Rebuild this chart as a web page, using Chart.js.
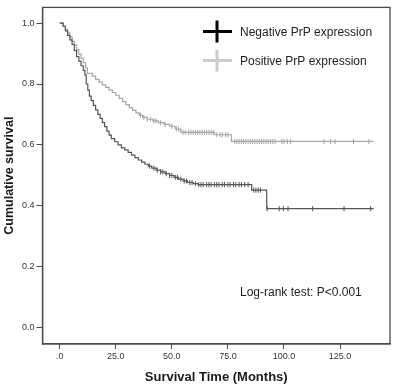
<!DOCTYPE html>
<html>
<head>
<meta charset="utf-8">
<script src="https://cdn.jsdelivr.net/npm/chart.js@4.4.1/dist/chart.umd.min.js"></script>
<style>
  html, body { margin: 0; padding: 0; background: #ffffff; }
  #wrap { width: 397px; height: 387px; }
</style>
</head>
<body>
<div id="wrap"><canvas id="c" width="397" height="387"></canvas></div>
<script>
// ---- Data ----
const seriesNames = ['Negative PrP expression', 'Positive PrP expression'];

// Negative PrP expression: step times (months) and survival after each step
const negTimes = [0, 1.5, 2.5, 3.5, 4.5, 5.5, 6.5, 7.5, 8.5, 9.5, 10.5, 11.2, 11.8, 12.5, 13.2, 14.0, 15.0, 16.0, 17.0, 18.0, 19.0, 20.0, 21.0, 22.0, 23.0, 24.5, 26.0, 27.5, 29.0, 30.5, 32.0, 33.5, 35.0, 36.5, 38.0, 39.5, 41.0, 43.0, 45.0, 47.0, 49.0, 51.0, 53.0, 55.0, 57.0, 59.5, 61.7, 85.6, 92.3, 140];
const negSurv  = [1.0, 0.99, 0.975, 0.96, 0.945, 0.93, 0.91, 0.89, 0.875, 0.86, 0.845, 0.83, 0.80, 0.78, 0.76, 0.745, 0.73, 0.715, 0.70, 0.687, 0.673, 0.66, 0.645, 0.632, 0.62, 0.61, 0.60, 0.59, 0.583, 0.575, 0.566, 0.558, 0.55, 0.543, 0.536, 0.53, 0.523, 0.517, 0.511, 0.505, 0.499, 0.493, 0.487, 0.481, 0.476, 0.472, 0.469, 0.451, 0.39, 0.39];
const negCensored = [40, 42, 43.5, 45, 46, 47.5, 49, 50, 51.5, 52.5, 54, 55.5, 56.5, 58, 59, 60.5, 62, 63, 64, 65.5, 66.5, 67.5, 69, 70, 71, 72.5, 73.5, 75, 76, 77.5, 78.5, 80, 81, 82.5, 84, 86.5, 87.5, 88.5, 89.5, 92.5, 97.9, 99.7, 101.8, 112.8, 126.8, 138.7];

// Positive PrP expression
const posTimes = [0, 1.5, 2.5, 3.5, 4.5, 5.5, 6.5, 7.5, 8.5, 9.5, 10.5, 11.5, 12.3, 14.5, 16.0, 17.5, 19.0, 20.5, 22.0, 23.5, 25.0, 26.5, 28.0, 29.5, 31.0, 32.5, 34.0, 35.5, 37.0, 39.0, 41.5, 44.0, 46.5, 49.0, 51.5, 54.0, 69.0, 76.6, 140];
const posSurv  = [1.0, 0.99, 0.98, 0.968, 0.955, 0.94, 0.928, 0.913, 0.898, 0.885, 0.87, 0.853, 0.835, 0.826, 0.815, 0.806, 0.797, 0.789, 0.78, 0.772, 0.763, 0.753, 0.742, 0.732, 0.722, 0.713, 0.705, 0.697, 0.69, 0.684, 0.679, 0.673, 0.667, 0.661, 0.652, 0.641, 0.633, 0.611, 0.611];
const posCensored = [36, 37.5, 39, 40.5, 42, 43, 45, 47, 50, 52, 53, 55, 56, 57.5, 58.5, 59.5, 60.5, 61.5, 62.5, 63.5, 64.5, 65.5, 66.5, 67.5, 68.5, 70, 71.5, 72.5, 74, 75, 78, 79, 80, 81, 82, 83, 84, 85, 86, 87, 88, 89, 90, 91, 92, 93, 94, 95, 96, 99, 100, 101.5, 103, 117.9, 120.8, 122.8, 131, 137.9];

const xTickValues = [0, 25, 50, 75, 100, 125];
const xTickLabels = ['.0', '25.0', '50.0', '75.0', '100.0', '125.0'];
const yTickValues = [0, 0.2, 0.4, 0.6, 0.8, 1.0];
const yTickLabels = ['0.0', '0.2', '0.4', '0.6', '0.8', '1.0'];

const xTitle = 'Survival Time (Months)';
const yTitle = 'Cumulative survival';
const noteText = 'Log-rank test: P<0.001';

// ---- Build library structures ----
function curve(times, surv) { return times.map((t, i) => ({ x: t, y: surv[i] })); }
function levelAt(times, surv, t) {
  let v = surv[0];
  for (let i = 0; i < times.length; i++) { if (times[i] <= t) v = surv[i]; }
  return v;
}
function censorPts(cens, times, surv) { return cens.map(t => ({ x: t, y: levelAt(times, surv, t) })); }

const FONT = "'Liberation Sans', Arial, sans-serif";
const negColor = '#555555';
const posColor = '#a6a6a6';
const legendColors = ['#000000', '#cccccc'];

const framePlugin = {
  id: 'frame',
  afterDraw(chart) {
    const { ctx, chartArea: a } = chart;
    ctx.save();
    ctx.strokeStyle = '#4a4a4a';
    ctx.lineWidth = 1.3;
    ctx.strokeRect(a.left, a.top, a.right - a.left, a.bottom - a.top);
    // legend
    const items = [
      { label: seriesNames[0], color: legendColors[0], y: 31.5 },
      { label: seriesNames[1], color: legendColors[1], y: 60.5 }
    ];
    items.forEach(it => {
      ctx.strokeStyle = it.color;
      ctx.lineWidth = 3;
      ctx.beginPath();
      ctx.moveTo(203, it.y); ctx.lineTo(232, it.y);
      ctx.moveTo(217, it.y - 11); ctx.lineTo(217, it.y + 11);
      ctx.stroke();
      ctx.fillStyle = '#222222';
      ctx.font = '12px ' + FONT;
      ctx.textBaseline = 'middle';
      ctx.textAlign = 'left';
      ctx.fillText(it.label, 240, it.y + 1);
    });
    ctx.fillStyle = '#222222';
    ctx.font = '12px ' + FONT;
    ctx.textBaseline = 'middle';
    ctx.fillText(noteText, 240, 293);
    ctx.restore();
  }
};

new Chart(document.getElementById('c'), {
  type: 'line',
  data: {
    datasets: [
      { label: seriesNames[0], data: curve(negTimes, negSurv), stepped: 'before', borderColor: negColor, borderWidth: 1.2, pointRadius: 0, fill: false, order: 2 },
      { label: seriesNames[1], data: curve(posTimes, posSurv), stepped: 'before', borderColor: posColor, borderWidth: 1.2, pointRadius: 0, fill: false, order: 3 },
      { type: 'scatter', label: seriesNames[0] + ' censored', data: censorPts(negCensored, negTimes, negSurv), showLine: false, pointStyle: 'line', rotation: 90, radius: 2.6, borderColor: negColor, borderWidth: 1, order: 0 },
      { type: 'scatter', label: seriesNames[1] + ' censored', data: censorPts(posCensored, posTimes, posSurv), showLine: false, pointStyle: 'line', rotation: 90, radius: 2.6, borderColor: posColor, borderWidth: 1, order: 1 }
    ]
  },
  options: {
    responsive: false,
    devicePixelRatio: 1,
    animation: false,
    layout: { padding: { left: 0, top: 4, right: 7, bottom: 0 } },
    plugins: { legend: { display: false }, tooltip: { enabled: false } },
    scales: {
      x: {
        type: 'linear',
        min: -7.7, max: 147.3,
        afterBuildTicks: s => { s.ticks = xTickValues.map(v => ({ value: v })); },
        afterFit: s => { s.height = 43; },
        ticks: {
          autoSkip: false, maxRotation: 0, padding: 2,
          color: '#333333', font: { family: FONT, size: 9 },
          callback: (v, i) => xTickLabels[i]
        },
        grid: { drawOnChartArea: false, drawTicks: true, tickLength: 5, color: '#4a4a4a', lineWidth: 1 },
        border: { display: true, color: '#4a4a4a', width: 1.3 },
        title: { display: true, text: xTitle, color: '#1a1a1a', font: { family: FONT, size: 13, weight: 'bold' }, padding: { top: 0, bottom: 2 } }
      },
      y: {
        type: 'linear',
        min: -0.0553, max: 1.052,
        afterBuildTicks: s => { s.ticks = yTickValues.map(v => ({ value: v })); },
        afterFit: s => { s.width = 42.5; },
        ticks: {
          autoSkip: false, padding: 2,
          color: '#333333', font: { family: FONT, size: 9 },
          callback: (v, i) => yTickLabels[i]
        },
        grid: { drawOnChartArea: false, drawTicks: true, tickLength: 6, color: '#4a4a4a', lineWidth: 1 },
        border: { display: true, color: '#4a4a4a', width: 1.3 },
        title: { display: true, text: yTitle, color: '#1a1a1a', font: { family: FONT, size: 12.5, weight: 'bold' }, padding: { top: 2, bottom: 0 } }
      }
    }
  },
  plugins: [framePlugin]
});
</script>
</body>
</html>
